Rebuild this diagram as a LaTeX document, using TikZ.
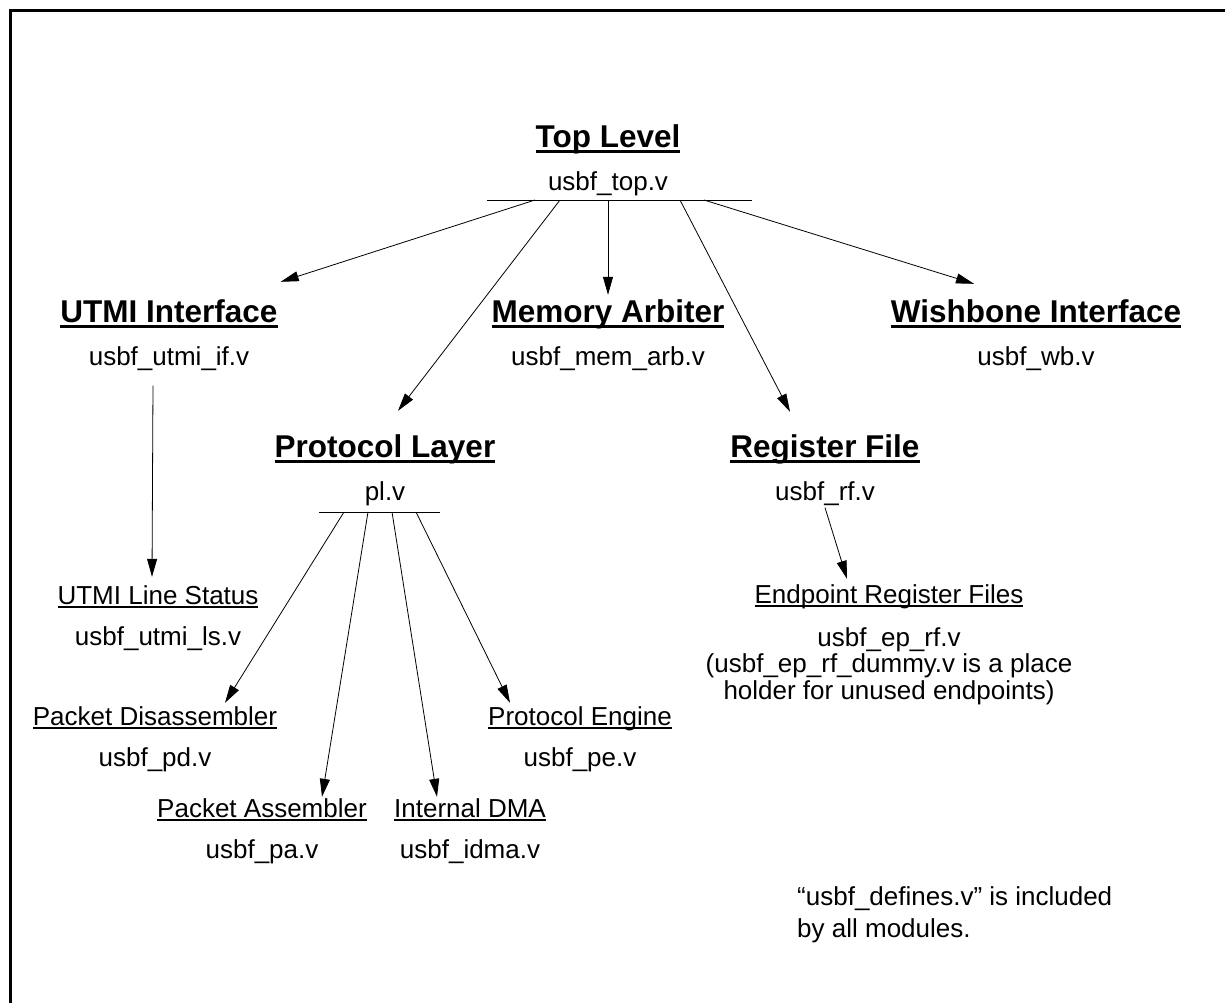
\documentclass[tikz,border=0pt]{standalone}
\usepackage{fontspec}
\setmainfont{Liberation Sans}
\usetikzlibrary{arrows.meta,calc,positioning}

\newcommand\ulbold[1]{\setbox0\hbox{#1}\rlap{\rule[-5.5pt]{\wd0}{2.6pt}}\box0}
\newcommand\ulthin[1]{\setbox0\hbox{#1}\rlap{\rule[-3.6pt]{\wd0}{1.2pt}}\box0}

\begin{document}
\begin{tikzpicture}[x=1pt, y=-1pt, node distance=15pt, >={Triangle[length=18pt,width=10pt]},
  head/.style={font=\fontsize{31.5}{34}\selectfont\bfseries, inner sep=0pt, text height=24pt, text depth=8pt, anchor=base},
  sub/.style={font=\fontsize{26}{28}\selectfont, inner sep=0pt, text height=20pt, text depth=6pt, anchor=base},
  file/.style={font=\fontsize{26}{28}\selectfont, inner sep=0pt, text height=20pt, text depth=7pt},
  link/.style={->, line width=0.8pt}]
  \useasboundingbox (0,0) rectangle (1225,1002);
  \draw[line width=3pt] (10,1010) -- (10,10) -- (1230,10);

  % top level
  \node[head] (top) at (608,147) {\ulbold{Top Level}};
  \node[file, below=of top] (topf) {usbf\_top.v};
  \coordinate (tbl) at (487,200);
  \coordinate (tbr) at (752,200);
  \draw[line width=0.8pt] (tbl) -- (tbr);
  \coordinate (t1) at (535,200);
  \coordinate (t2) at (560,200);
  \coordinate (t3) at (608,200);
  \coordinate (t4) at (680,200);
  \coordinate (t5) at (704,200);

  % second row
  \node[head] (utmi) at (169,322) {\ulbold{UTMI Interface}};
  \node[file, below=of utmi] (utmif) {usbf\_utmi\_if.v};
  \node[head] (mem) at (608,322) {\ulbold{Memory Arbiter}};
  \node[file, below=of mem] (memf) {usbf\_mem\_arb.v};
  \node[head] (wb) at (1036,322) {\ulbold{Wishbone Interface}};
  \node[file, below=of wb] (wbf) {usbf\_wb.v};
  \node[head] (pl) at (385,457) {\ulbold{Protocol Layer}};
  \node[file, below=of pl] (plf) {pl.v};
  \node[head] (rf) at (825,457) {\ulbold{Register File}};
  \node[file, below=of rf] (rff) {usbf\_rf.v};

  \draw[link] (t1) -- ($(utmi.north east)+(3,-16)$);
  \draw[link] (t2) -- ($(pl.north)+(13,-22)$);
  \draw[link] (t3) -- ($(mem.north)+(0,-3)$);
  \draw[link] (t4) -- ($(rf.north)+(-35,-21)$);
  \draw[link] (t5) -- ($(wb.north)+(-62,-14)$);

  % sub modules
  \node[sub] (uls) at (158,604) {\ulthin{UTMI Line Status}};
  \node[file, below=of uls] (ulsf) {usbf\_utmi\_ls.v};
  \node[sub] (pd) at (155,725) {\ulthin{Packet Disassembler}};
  \node[file, below=of pd] (pdf) {usbf\_pd.v};
  \node[sub] (pe) at (580,725) {\ulthin{Protocol Engine}};
  \node[file, below=of pe] (pef) {usbf\_pe.v};
  \node[sub] (pa) at (262,817) {\ulthin{Packet Assembler}};
  \node[file, below=of pa] (paf) {usbf\_pa.v};
  \node[sub] (dma) at (470,817) {\ulthin{Internal DMA}};
  \node[file, below=of dma] (dmaf) {usbf\_idma.v};
  \node[sub] (epr) at (889,603) {\ulthin{Endpoint Register Files}};
  \node[font=\fontsize{26}{26.5}\selectfont, inner sep=0pt, align=center, below=18pt of epr] (eprf)
    {usbf\_ep\_rf.v\\(usbf\_ep\_rf\_dummy.v is a place\\holder for unused endpoints)};

  \draw[link] ($(utmif.south)+(-16,13)$) -- ($(uls.north)+(-6,-7)$);

  \coordinate (pbl) at (319,512);
  \coordinate (pbr) at (440,512);
  \draw[line width=0.8pt] (pbl) -- (pbr);
  \coordinate (p1) at (344,512);
  \coordinate (p2) at (368,512);
  \coordinate (p3) at (392,512);
  \coordinate (p4) at (416,512);
  \draw[link] (p1) -- ($(pd.north)+(70,-2)$);
  \draw[link] (p2) -- ($(pa.north)+(60,0)$);
  \draw[link] (p3) -- ($(dma.north)+(-33,0)$);
  \draw[link] (p4) -- ($(pe.north)+(-70,-2)$);

  \draw[link] (rff.south) -- ($(epr.north)+(-42,-4)$);

  % note
  \node[font=\fontsize{26}{32}\selectfont, inner sep=0pt, align=left, anchor=north west] (note) at (797,886)
    {“usbf\_defines.v” is included\\by all modules.};
\end{tikzpicture}
\end{document}
